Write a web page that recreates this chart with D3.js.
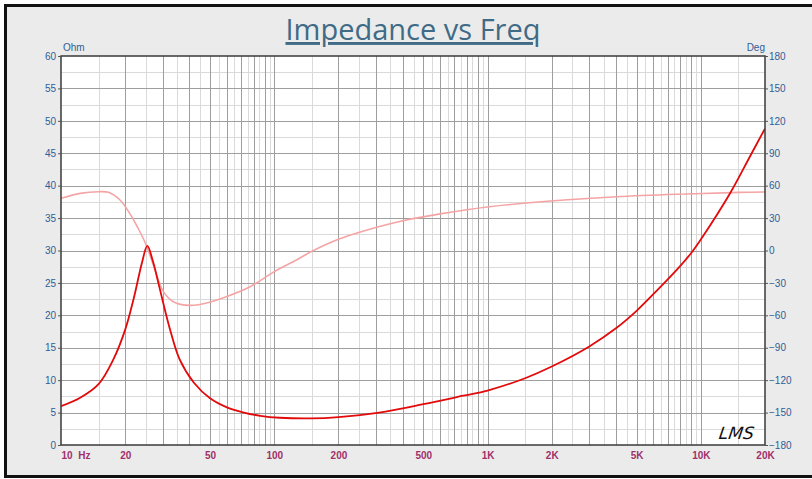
<!DOCTYPE html>
<html>
<head>
<meta charset="utf-8">
<script src="https://cdn.jsdelivr.net/npm/d3@7"></script>
<style>
  body { margin: 0; background: #fff; }
  svg { display: block; }
  .tick-label { font-family: "Liberation Sans", Arial, sans-serif; font-size: 10px; }
</style>
</head>
<body>
<svg width="812" height="479"></svg>
<script>
// Impedance magnitude (Ohm)
const freqZ = [10, 12.3, 15, 17.6, 20, 22, 24, 25.4, 27, 29, 32.4, 36, 42, 50, 60, 72, 86, 106, 150, 200, 310, 500, 770, 1000, 1500, 2000, 3000, 4000, 5000, 6300, 8000, 9060, 10000, 13700, 17000, 20000];
const impedance = [6.0, 7.3, 9.4, 13.2, 17.8, 22.8, 28.2, 30.7, 28.3, 24.2, 17.9, 13.2, 9.6, 7.2, 5.8, 5.0, 4.5, 4.2, 4.1, 4.3, 5.0, 6.3, 7.6, 8.4, 10.3, 12.1, 15.2, 18.0, 20.7, 24.0, 27.6, 29.7, 31.7, 38.8, 44.5, 48.8];

// Phase (Deg)
const freqP = [10, 12.3, 15, 16.7, 18.9, 21, 23, 24.7, 26.6, 28.6, 30.2, 33.6, 40.2, 48, 60, 77, 100, 127, 151, 200, 302, 401, 600, 1020, 2040, 4040, 8530, 15200, 20000];
const phase = [48.3, 52.9, 54.4, 53.8, 46.7, 34.4, 20.5, 8.1, -8.8, -27.3, -38.1, -47.4, -50.8, -48.6, -42.5, -33.5, -19.6, -8.8, -0.5, 10.4, 21.5, 27.6, 33.9, 40.5, 46.1, 49.8, 52.3, 53.8, 54.1];

const ohmTicks = [0, 5, 10, 15, 20, 25, 30, 35, 40, 45, 50, 55, 60];
const degTicks = [-180, -150, -120, -90, -60, -30, 0, 30, 60, 90, 120, 150, 180];
const freqTicks = [10, 20, 50, 100, 200, 500, 1000, 2000, 5000, 10000, 20000];
const freqTickLabels = ['10  Hz', '20', '50', '100', '200', '500', '1K', '2K', '5K', '10K', '20K'];

const svg = d3.select('svg');
const margin = { top: 56, right: 47, bottom: 34, left: 61 };
const width = +svg.attr('width');
const height = +svg.attr('height');

// Outer panel with heavy black frame
svg.append('rect')
  .attr('x', 5.5).attr('y', 5.5)
  .attr('width', 820).attr('height', 471)
  .attr('fill', '#ebebeb')
  .attr('stroke', '#111').attr('stroke-width', 3);

const x = d3.scaleLog().domain([10, 20000]).range([margin.left, width - margin.right]);
const yZ = d3.scaleLinear().domain([0, 60]).range([height - margin.bottom, margin.top]);
const yP = d3.scaleLinear().domain([-180, 180]).range([height - margin.bottom, margin.top]);

const [x0, x1] = x.range();
const [y0, y1] = yZ.range();

svg.append('rect')
  .attr('x', x0).attr('y', y1)
  .attr('width', x1 - x0).attr('height', y0 - y1)
  .attr('fill', '#fff');

// Grid: light lines at half steps, dark at whole multiples
const minorF = [];
const majorF = [];
for (let dec = 10; dec <= 10000; dec *= 10) {
  for (let m = 1; m <= 9; m++) {
    if (dec * m > 10 && dec * m < 20000) majorF.push(dec * m);
    if (dec * (m + 0.5) < 20000) minorF.push(dec * (m + 0.5));
  }
}
const grid = svg.append('g').attr('shape-rendering', 'crispEdges');
grid.selectAll('.vminor').data(minorF).enter().append('line')
  .attr('x1', (d) => Math.round(x(d)) + 0.5).attr('x2', (d) => Math.round(x(d)) + 0.5)
  .attr('y1', y1).attr('y2', y0)
  .attr('stroke', '#dadada');
grid.selectAll('.hminor').data(d3.range(2.5, 60, 5)).enter().append('line')
  .attr('x1', x0).attr('x2', x1)
  .attr('y1', (d) => Math.round(yZ(d)) + 0.5).attr('y2', (d) => Math.round(yZ(d)) + 0.5)
  .attr('stroke', '#dadada');
grid.selectAll('.vmajor').data(majorF).enter().append('line')
  .attr('x1', (d) => Math.round(x(d)) + 0.5).attr('x2', (d) => Math.round(x(d)) + 0.5)
  .attr('y1', y1).attr('y2', y0)
  .attr('stroke', '#9e9e9e');
grid.selectAll('.hmajor').data(ohmTicks.slice(1, -1)).enter().append('line')
  .attr('x1', x0).attr('x2', x1)
  .attr('y1', (d) => Math.round(yZ(d)) + 0.5).attr('y2', (d) => Math.round(yZ(d)) + 0.5)
  .attr('stroke', '#9e9e9e');

// Curves
svg.append('clipPath').attr('id', 'plot')
  .append('rect').attr('x', x0).attr('y', y1).attr('width', x1 - x0).attr('height', y0 - y1);

const phaseLine = d3.line()
  .x((d, i) => x(freqP[i]))
  .y((d) => yP(d))
  .curve(d3.curveCatmullRom.alpha(0.5));
svg.append('path')
  .attr('d', phaseLine(phase))
  .attr('clip-path', 'url(#plot)')
  .attr('fill', 'none')
  .attr('stroke', '#f4a4a4')
  .attr('stroke-width', 1.6);

const zLine = d3.line()
  .x((d, i) => x(freqZ[i]))
  .y((d) => yZ(d))
  .curve(d3.curveCatmullRom.alpha(0.5));
svg.append('path')
  .attr('d', zLine(impedance))
  .attr('clip-path', 'url(#plot)')
  .attr('fill', 'none')
  .attr('stroke', '#e20a0a')
  .attr('stroke-width', 1.8);

// Plot frame
svg.append('rect')
  .attr('x', x0).attr('y', y1)
  .attr('width', x1 - x0).attr('height', y0 - y1)
  .attr('fill', 'none')
  .attr('stroke', '#3a3a3a').attr('stroke-width', 1.5);

// Left axis (Ohm)
const left = svg.append('g').attr('transform', `translate(${x0},0)`)
  .call(d3.axisLeft(yZ).tickValues(ohmTicks).tickSize(3).tickPadding(2));
left.select('.domain').remove();
left.selectAll('line').attr('stroke', '#555');
left.selectAll('text').attr('class', 'tick-label').attr('fill', '#2f5d96');

// Right axis (Deg)
const right = svg.append('g').attr('transform', `translate(${x1},0)`)
  .call(d3.axisRight(yP).tickValues(degTicks).tickSize(3).tickPadding(1));
right.select('.domain').remove();
right.selectAll('line').attr('stroke', '#555');
right.selectAll('text').attr('class', 'tick-label').attr('fill', '#2f5d96');

// Bottom axis (Hz)
const bottom = svg.append('g').attr('transform', `translate(0,${y0})`)
  .call(d3.axisBottom(x).tickValues(freqTicks).tickFormat((d, i) => freqTickLabels[i]).tickSize(0).tickPadding(7));
bottom.select('.domain').remove();
bottom.selectAll('text')
  .attr('class', 'tick-label')
  .attr('fill', '#a0306a')
  .attr('font-weight', 'bold')
  .style('white-space', 'pre')
  .attr('text-anchor', (d) => (d === 10 ? 'start' : 'middle'));

// Unit labels
svg.append('text').attr('class', 'tick-label')
  .attr('x', x0 + 2).attr('y', y1 - 5)
  .attr('fill', '#2f5d96').text('Ohm');
svg.append('text').attr('class', 'tick-label')
  .attr('x', x1).attr('y', y1 - 5)
  .attr('text-anchor', 'end')
  .attr('fill', '#2f5d96').text('Deg');

// Title
svg.append('text')
  .attr('x', (x0 + x1) / 2).attr('y', 40)
  .attr('text-anchor', 'middle')
  .attr('font-family', '"Open Sans", "Noto Sans", sans-serif')
  .attr('font-size', 29)
  .attr('font-weight', 500)
  .attr('fill', '#3f6b86')
  .attr('text-decoration', 'underline')
  .text('Impedance vs Freq');

// LMS mark
svg.append('text')
  .attr('x', 722).attr('y', 439)
  .attr('font-family', '"DejaVu Sans", sans-serif')
  .attr('font-style', 'italic')
  .attr('font-size', 17)
  .attr('fill', '#111')
  .attr('transform', 'skewX(-8)')
  .attr('dx', 58)
  .text('LMS');
</script>
</body>
</html>
